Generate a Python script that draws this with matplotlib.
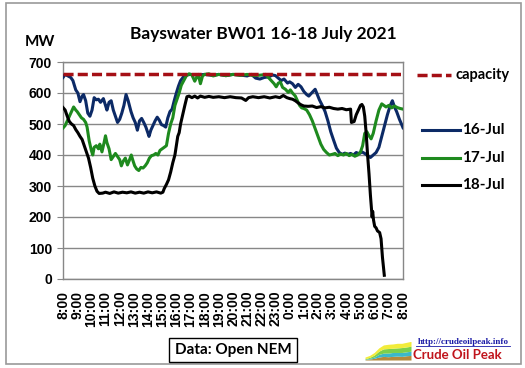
import numpy as np
import matplotlib.pyplot as plt
from matplotlib.lines import Line2D
from matplotlib.patches import Rectangle

# hours after 8:00 on each day, MW output of unit BW01
t16 = [0.0, 0.15, 0.35, 0.55, 0.7, 0.9, 1.05, 1.2, 1.35, 1.45, 1.6, 1.75, 1.9, 2.05, 2.2, 2.35, 2.5, 2.65,
       2.85, 3.0, 3.1, 3.25, 3.4, 3.55, 3.7, 3.85, 4.0, 4.15, 4.3, 4.45, 4.6, 4.8, 4.95, 5.1, 5.25, 5.4,
       5.55, 5.7, 5.85, 6.0, 6.07, 6.2, 6.35, 6.5, 6.65, 6.8, 6.95, 7.1, 7.25, 7.4, 7.55, 7.7, 7.85, 8.0,
       8.15, 8.3, 8.5, 8.7, 9.0, 9.5, 10.0, 10.5, 11.0, 11.5, 12.0, 12.5, 13.0, 13.3, 13.6, 13.9, 14.2,
       14.5, 14.8, 15.0, 15.2, 15.4, 15.6, 15.85, 16.0, 16.2, 16.4, 16.6, 16.8, 17.0, 17.2, 17.35, 17.55,
       17.8, 17.95, 18.1, 18.3, 18.5, 18.7, 18.9, 19.1, 19.3, 19.5, 19.7, 19.9, 20.1, 20.3, 20.5, 20.7,
       20.9, 21.1, 21.3, 21.5, 21.7, 21.9, 22.1, 22.3, 22.5, 22.7, 22.9, 23.1, 23.25, 23.4, 23.55, 23.75, 24.0]
v16 = [650, 660, 655, 650, 640, 610, 600, 572, 590, 595, 575, 535, 525, 545, 585, 578, 580, 570,
       582, 560, 545, 570, 575, 545, 525, 505, 515, 535, 560, 595, 575, 540, 520, 505, 480, 510,
       518, 505, 490, 470, 460, 480, 495, 510, 522, 512, 498, 495, 490, 520, 540, 548, 575, 600,
       622, 640, 652, 658, 660, 658, 660, 657, 660, 656, 660, 658, 655, 660, 648, 645, 650,
       652, 658, 656, 648, 640, 645, 632, 636, 630, 618, 628, 620, 605, 595, 590, 600,
       612, 595, 578, 560, 540, 510, 475, 448, 422, 408, 402, 406, 402, 405, 400, 408,
       404, 410, 405, 398, 392, 400, 408, 425, 460, 495, 530, 560, 575, 555, 540, 515, 488]

t17 = [0.0, 0.15, 0.3, 0.45, 0.6, 0.75, 0.9, 1.0, 1.15, 1.3, 1.45, 1.6, 1.7, 1.85, 2.0, 2.1, 2.2, 2.35,
       2.5, 2.6, 2.75, 2.9, 3.0, 3.1, 3.25, 3.4, 3.55, 3.7, 3.85, 4.0, 4.12, 4.25, 4.4, 4.55, 4.7, 4.82,
       4.95, 5.06, 5.2, 5.35, 5.5, 5.65, 5.8, 5.95, 6.1, 6.25, 6.4, 6.55, 6.7, 6.85, 7.0, 7.15, 7.3, 7.45,
       7.6, 7.75, 7.9, 8.05, 8.2, 8.35, 8.5, 8.7, 8.9, 9.1, 9.3, 9.45, 9.55, 9.7, 9.85, 10.0, 10.3, 10.6,
       11.0, 11.5, 12.0, 12.5, 13.0, 13.5, 14.0, 14.3, 14.5, 14.7, 14.9, 15.05, 15.2, 15.35, 15.5, 15.7,
       15.9, 16.05, 16.2, 16.4, 16.55, 16.7, 16.85, 17.0, 17.2, 17.4, 17.6, 17.8, 18.0, 18.2, 18.4, 18.6,
       18.8, 19.0, 19.2, 19.4, 19.6, 19.8, 20.0, 20.2, 20.4, 20.6, 20.8, 21.0, 21.15, 21.3, 21.45, 21.6,
       21.75, 21.9, 22.1, 22.3, 22.5, 22.65, 22.8, 23.0, 23.2, 23.4, 23.6, 23.8, 24.0]
v17 = [487, 495, 510, 525, 540, 555, 545, 540, 530, 520, 515, 505, 490, 445, 415, 400, 425, 430,
       420, 435, 410, 440, 462, 440, 420, 385, 395, 405, 395, 385, 365, 380, 390, 368, 385, 400,
       380, 365, 355, 350, 360, 358, 365, 375, 390, 398, 400, 405, 400, 415, 420, 425, 430, 470,
       500, 520, 560, 580, 600, 625, 638, 655, 662, 658, 638, 652, 660, 630, 655, 660, 662, 655,
       660, 656, 660, 657, 660, 656, 658, 660, 650, 640, 630, 620, 632, 635, 618, 612,
       602, 610, 600, 590, 575, 560, 552, 550, 545, 530, 510, 485, 460, 435, 418, 408,
       400, 402, 405, 398, 403, 400, 405, 398, 402, 396, 400, 410, 430, 470, 475, 462,
       452, 470, 510, 545, 565, 560, 555, 560, 552, 558, 553, 550, 548]

t18 = [0.0, 0.15, 0.3, 0.45, 0.6, 0.75, 0.9, 1.05, 1.2, 1.35, 1.5, 1.65, 1.8, 1.95, 2.1, 2.25, 2.4, 2.55,
       2.8, 3.0, 3.3, 3.6, 3.9, 4.2, 4.5, 4.8, 5.1, 5.4, 5.7, 6.0, 6.3, 6.6, 6.9, 7.05, 7.15, 7.3, 7.45,
       7.6, 7.75, 7.9, 8.0, 8.1, 8.2, 8.3, 8.45, 8.6, 8.75, 8.9, 9.1, 9.3, 9.5, 9.7, 10.0, 10.3, 10.6,
       11.0, 11.4, 11.8, 12.2, 12.6, 12.9, 13.1, 13.4, 13.8, 14.2, 14.6, 15.0, 15.3, 15.55, 15.8, 16.0,
       16.2, 16.4, 16.6, 16.8, 17.0, 17.3, 17.6, 17.9, 18.2, 18.5, 18.8, 19.1, 19.4, 19.7, 20.0, 20.3,
       20.36, 20.55, 20.7, 20.85, 21.0, 21.1, 21.2, 21.3, 21.4, 21.5, 21.6, 21.7, 21.82, 21.86, 21.92,
       22.0, 22.1, 22.2, 22.35, 22.45, 22.55, 22.68]
v18 = [553, 545, 525, 508, 500, 495, 482, 472, 460, 450, 430, 410, 390, 360, 325, 300, 283, 276,
       277, 280, 276, 281, 277, 280, 278, 281, 277, 280, 277, 281, 278, 281, 277, 280, 292, 305, 320,
       345, 375, 400, 430, 460, 472, 500, 530, 560, 588, 590, 585, 590, 584, 590, 586, 589, 586,
       588, 585, 588, 585, 584, 576, 585, 588, 585, 588, 584, 588, 585, 592, 585, 582,
       580, 575, 568, 562, 558, 557, 558, 553, 556, 552, 554, 550, 548, 550, 546, 548,
       505, 508, 530, 545, 560, 563, 555, 525, 470, 400, 340, 270, 200, 218, 190,
       170, 165, 155, 150, 130, 70, 12]

capacity = 660
hour_labels = ["8:00", "9:00", "10:00", "11:00", "12:00", "13:00", "14:00", "15:00", "16:00",
               "17:00", "18:00", "19:00", "20:00", "21:00", "22:00", "23:00", "0:00", "1:00",
               "2:00", "3:00", "4:00", "5:00", "6:00", "7:00", "8:00"]

# little logo picture (stacked areas)
logo_x = [0, 1, 2, 3, 4, 5, 6, 7, 8, 9, 10]
logo_a = [0.5, 0.6, 0.8, 1.0, 1.2, 1.3, 1.3, 1.4, 1.3, 1.4, 1.5]
logo_b = [0.2, 0.3, 0.6, 1.0, 1.3, 1.4, 1.3, 1.4, 1.5, 1.5, 1.5]
logo_c = [0.1, 0.2, 0.4, 0.8, 1.0, 1.1, 1.2, 1.1, 1.2, 1.2, 1.3]
logo_d = [0.1, 0.3, 0.5, 0.9, 1.1, 1.0, 1.1, 1.2, 1.1, 1.3, 1.4]

W, H = 525, 368
fig = plt.figure(figsize=(5.25, 3.68), dpi=100)
fig.patches.append(Rectangle((6 / W, 1 - 364 / H), 515 / W, 361 / H, transform=fig.transFigure,
                             fill=False, edgecolor="#9a9a9a", linewidth=1.2))

ax = fig.add_axes([63 / W, 1 - 279 / H, 340 / W, 217 / H])

ax.axhline(capacity, color="#a50f15", linewidth=2.5, dashes=(2.9, 1.2), zorder=5)
ax.plot(t16, v16, color="#0c2a66", linewidth=2.2, zorder=3)
ax.plot(t17, v17, color="#1e8a1e", linewidth=2.2, zorder=4)
ax.plot(t18, v18, color="black", linewidth=2.2, zorder=4)

ax.set_xlim(0, 24)
ax.set_ylim(0, 700)
ax.set_yticks(range(0, 701, 100))
ax.set_xticks(range(25))
ax.set_xticklabels(hour_labels, rotation=90, fontfamily="Liberation Sans", fontweight="bold",
                   fontsize=10, va="top")
ax.set_xticks(range(0, 25, 3), minor=True)
for lab in ax.get_yticklabels():
    lab.set_fontfamily("Liberation Sans")
    lab.set_fontweight("bold")
    lab.set_fontsize(10)
ax.tick_params(axis="x", which="major", length=0, pad=8.5)
ax.tick_params(axis="x", which="minor", length=4, color="#878787")
ax.tick_params(axis="y", length=4, color="#878787", pad=4)
ax.grid(axis="y", color="#878787", linewidth=1.0)
ax.grid(axis="x", which="minor", color="#878787", linewidth=1.0)
for s in ax.spines.values():
    s.set_color("#878787")
    s.set_linewidth(1.0)

fig.text(263 / W, 1 - 34 / H, "Bayswater BW01 16-18 July 2021", ha="center", va="center",
         fontfamily="Lato", fontweight="bold", fontsize=12.5)
fig.text(40 / W, 1 - 42 / H, "MW", ha="center", va="center", fontfamily="Lato",
         fontweight="bold", fontsize=11)

# legend drawn by hand
fig.add_artist(Line2D([417 / W, 451 / W], [1 - 75 / H] * 2, color="#a50f15", linewidth=2.5,
                      dashes=(2.9, 1.2)))
fig.text(456 / W, 1 - 75 / H, "capacity", va="center", fontfamily="Lato", fontweight="bold", fontsize=10.5)
leg = [("16-Jul", "#0c2a66", 130), ("17-Jul", "#1e8a1e", 157.5), ("18-Jul", "black", 185)]
for name, col, yy in leg:
    fig.add_artist(Line2D([422 / W, 460 / W], [1 - yy / H] * 2, color=col, linewidth=2.2))
    fig.text(462 / W, 1 - yy / H, name, va="center", fontfamily="Lato", fontweight="bold", fontsize=11)

fig.text(233 / W, 1 - 350 / H, "Data: Open NEM", ha="center", va="center", fontfamily="Lato",
         fontweight="bold", fontsize=11,
         bbox=dict(boxstyle="square,pad=0.35", facecolor="white", edgecolor="black", linewidth=1))

# logo
lax = fig.add_axes([365 / W, 1 - 360 / H, 46 / W, 18 / H])
base = np.zeros(len(logo_x))
for layer, col in zip([logo_d, logo_c, logo_b, logo_a], ["#b5893a", "#3cb8c8", "#7ccf4a", "#f2ec3a"]):
    top = base + np.array(layer)
    lax.fill_between(logo_x, base, top, color=col, linewidth=0)
    base = top
lax.set_xlim(0, 10)
lax.set_ylim(0, 5.5)
lax.axis("off")
fig.text(463 / W, 1 - 342 / H, "http://crudeoilpeak.info", ha="center", va="center",
         fontfamily="Liberation Serif", fontweight="bold", fontsize=6.5, color="#1a1aa6")
fig.add_artist(Line2D([416 / W, 510 / W], [1 - 346 / H] * 2, color="#1a1aa6", linewidth=0.6))
fig.text(413 / W, 1 - 355 / H, "Crude Oil Peak", ha="left", va="center", fontfamily="Lato",
         fontweight="bold", fontsize=9.5, color="#c0141c")

fig.savefig("out.png", dpi=100)
